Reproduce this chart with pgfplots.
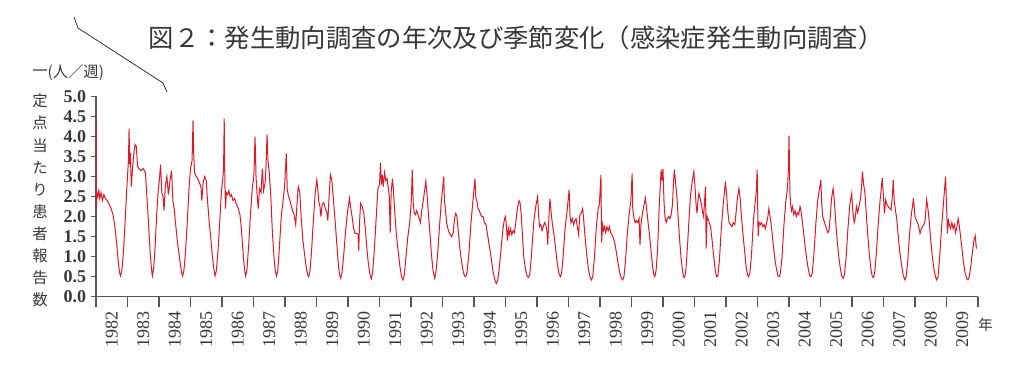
\documentclass[border=0pt]{standalone}
\usepackage{pgfplots}
\pgfplotsset{compat=1.18}
\usepackage{fontspec}
\setmainfont{Liberation Serif}
\newfontfamily\cjk{Noto Sans CJK JP}
\definecolor{linered}{RGB}{222,25,40}
\definecolor{axgray}{RGB}{85,85,85}
\definecolor{txtgray}{RGB}{55,55,55}
\begin{document}
\begin{tikzpicture}
\path[use as bounding box] (0,0) rectangle (768pt,284.25pt);
\begin{axis}[
  at={(72pt,61.7pt)}, anchor=south west,
  scale only axis, width=661.5pt, height=150.2pt,
  xmin=1982, xmax=2010, ymin=0, ymax=5,
  axis x line*=bottom, axis y line*=left,
  axis line style={axgray, line width=0.8pt, -},
  tick align=outside,
  major tick length=3.8pt,
  minor tick length=8pt,
  ytick={0,0.5,1,1.5,2,2.5,3,3.5,4,4.5,5},
  y tick style={axgray, line width=0.8pt},
  /pgf/number format/assume math mode=true,
  yticklabel style={/pgf/number format/.cd, fixed, fixed zerofill, precision=1, /tikz/.cd,
    font=\fontsize{13.5}{14}\selectfont\bfseries, text=txtgray},
  xtick={1982.5,1983.5,1984.5,1985.5,1986.5,1987.5,1988.5,1989.5,1990.5,1991.5,1992.5,1993.5,1994.5,1995.5,1996.5,1997.5,1998.5,1999.5,2000.5,2001.5,2002.5,2003.5,2004.5,2005.5,2006.5,2007.5,2008.5,2009.5},
  xticklabels={1982,1983,1984,1985,1986,1987,1988,1989,1990,1991,1992,1993,1994,1995,1996,1997,1998,1999,2000,2001,2002,2003,2004,2005,2006,2007,2008,2009},
  minor xtick={1982,1983,...,2010},
  major x tick style={draw=none},
  minor x tick style={axgray, line width=0.8pt},
  xticklabel shift=4pt,
  xticklabel style={rotate=90, anchor=east, font=\fontsize{13.5}{14}\selectfont, text=txtgray},
  clip=false,
]
\addplot[color=linered, line width=0.75pt] coordinates {
(1982.00,4.40)(1982.01,2.20)(1982.03,2.60)(1982.06,2.50)(1982.09,2.65)(1982.12,2.45)(1982.16,2.60)(1982.20,2.40)(1982.25,2.55)(1982.30,2.45)(1982.36,2.40)(1982.42,2.30)(1982.48,2.20)(1982.54,2.05)(1982.60,1.75)(1982.66,1.30)(1982.71,0.85)(1982.75,0.60)(1982.78,0.52)(1982.82,0.65)(1982.87,1.10)(1982.92,1.80)(1982.97,2.60)(1983.00,3.00)
(1983.03,3.40)(1983.05,4.20)(1983.07,3.30)(1983.09,3.60)(1983.12,2.75)(1983.15,3.10)(1983.19,3.50)(1983.24,3.80)(1983.28,3.75)(1983.32,3.25)(1983.36,3.20)(1983.42,3.15)(1983.50,3.20)(1983.57,3.10)(1983.62,2.45)(1983.67,1.80)(1983.72,1.10)(1983.76,0.70)(1983.79,0.52)(1983.83,0.70)(1983.88,1.30)(1983.93,2.10)(1983.98,2.70)
(1984.01,2.90)(1984.05,3.30)(1984.09,2.60)(1984.13,2.50)(1984.16,2.15)(1984.20,2.75)(1984.25,3.00)(1984.30,2.55)(1984.35,2.90)(1984.40,3.15)(1984.44,2.40)(1984.48,2.20)(1984.53,1.80)(1984.58,1.40)(1984.63,1.10)(1984.68,0.80)(1984.72,0.60)(1984.75,0.52)(1984.79,0.65)(1984.84,1.10)(1984.90,1.90)(1984.96,2.80)(1985.00,3.20)
(1985.05,3.40)(1985.08,4.40)(1985.10,3.60)(1985.13,3.10)(1985.18,3.00)(1985.23,2.95)(1985.28,2.85)(1985.33,2.75)(1985.36,2.40)(1985.40,2.85)(1985.45,3.00)(1985.50,2.90)(1985.54,2.40)(1985.59,1.90)(1985.64,1.50)(1985.69,1.05)(1985.74,0.70)(1985.78,0.52)(1985.82,0.65)(1985.87,1.10)(1985.93,1.90)(1985.98,2.60)(1986.03,3.00)
(1986.05,3.20)(1986.07,4.45)(1986.09,2.90)(1986.11,2.20)(1986.14,2.60)(1986.18,2.55)(1986.22,2.65)(1986.26,2.50)(1986.30,2.55)(1986.35,2.40)(1986.40,2.45)(1986.46,2.30)(1986.52,2.20)(1986.57,2.05)(1986.61,1.75)(1986.65,1.30)(1986.69,0.90)(1986.72,0.65)(1986.75,0.52)(1986.79,0.65)(1986.84,1.20)(1986.90,2.00)(1986.96,2.70)
(1987.01,3.00)(1987.05,4.00)(1987.08,3.00)(1987.11,2.60)(1987.15,2.20)(1987.19,2.70)(1987.24,2.60)(1987.28,3.20)(1987.32,2.65)(1987.37,2.85)(1987.40,3.30)(1987.43,4.05)(1987.46,3.40)(1987.50,3.10)(1987.55,2.50)(1987.60,1.60)(1987.65,1.00)(1987.69,0.65)(1987.73,0.52)(1987.77,0.65)(1987.82,1.20)(1987.88,2.00)(1987.94,2.40)(1987.99,2.80)
(1988.04,3.58)(1988.07,2.70)(1988.10,2.55)(1988.14,2.45)(1988.19,2.30)(1988.24,2.15)(1988.29,2.05)(1988.34,1.80)(1988.38,2.30)(1988.42,2.75)(1988.47,2.60)(1988.52,1.90)(1988.57,1.40)(1988.63,1.00)(1988.68,0.70)(1988.72,0.55)(1988.75,0.50)(1988.79,0.62)(1988.84,1.10)(1988.90,1.90)(1988.96,2.60)
(1989.01,2.92)(1989.04,2.70)(1989.07,2.40)(1989.11,2.25)(1989.14,2.00)(1989.18,2.30)(1989.23,2.35)(1989.28,2.20)(1989.33,2.10)(1989.36,1.90)(1989.40,2.50)(1989.44,3.05)(1989.48,2.95)(1989.52,2.60)(1989.56,2.20)(1989.61,1.70)(1989.66,1.15)(1989.70,0.75)(1989.74,0.52)(1989.77,0.46)(1989.81,0.60)(1989.86,1.00)(1989.92,1.60)(1989.98,2.10)
(1990.02,2.30)(1990.05,2.46)(1990.09,2.20)(1990.13,2.00)(1990.17,1.75)(1990.21,1.60)(1990.25,1.58)(1990.29,1.58)(1990.32,1.55)(1990.34,1.15)(1990.37,1.90)(1990.40,2.33)(1990.45,2.25)(1990.50,2.10)(1990.55,1.70)(1990.60,1.20)(1990.65,0.80)(1990.70,0.55)(1990.74,0.45)(1990.78,0.60)(1990.83,1.10)(1990.89,1.90)(1990.95,2.70)
(1991.00,2.80)(1991.03,3.35)(1991.06,2.80)(1991.09,3.05)(1991.12,2.75)(1991.16,3.10)(1991.20,2.90)(1991.24,2.95)(1991.28,2.70)(1991.31,2.50)(1991.34,1.60)(1991.37,2.60)(1991.41,2.95)(1991.44,2.70)(1991.48,2.15)(1991.53,1.60)(1991.59,1.15)(1991.65,0.75)(1991.70,0.50)(1991.75,0.42)(1991.79,0.55)(1991.84,1.00)(1991.90,1.50)(1991.96,1.85)
(1992.01,2.40)(1992.04,3.17)(1992.07,2.35)(1992.10,2.10)(1992.14,2.05)(1992.18,2.15)(1992.22,2.05)(1992.26,1.95)(1992.30,1.85)(1992.34,2.15)(1992.39,2.40)(1992.44,2.70)(1992.47,2.88)(1992.51,2.55)(1992.55,2.10)(1992.60,1.60)(1992.65,1.05)(1992.70,0.65)(1992.75,0.46)(1992.79,0.60)(1992.84,1.00)(1992.90,1.70)(1992.96,2.35)
(1993.04,3.00)(1993.06,2.40)(1993.09,2.20)(1993.13,1.85)(1993.17,1.70)(1993.21,1.60)(1993.25,1.55)(1993.29,1.50)(1993.34,1.60)(1993.38,1.95)(1993.42,2.08)(1993.46,2.00)(1993.51,1.55)(1993.56,1.15)(1993.61,0.85)(1993.66,0.62)(1993.70,0.52)(1993.74,0.50)(1993.78,0.62)(1993.84,1.10)(1993.90,1.80)(1993.96,2.35)
(1994.03,2.95)(1994.06,2.45)(1994.09,2.40)(1994.13,2.20)(1994.17,2.15)(1994.21,2.05)(1994.25,2.00)(1994.29,2.00)(1994.33,1.85)(1994.38,1.80)(1994.43,1.55)(1994.48,1.30)(1994.54,1.00)(1994.60,0.65)(1994.66,0.42)(1994.71,0.33)(1994.75,0.40)(1994.80,0.70)(1994.86,1.20)(1994.92,1.70)(1994.97,1.95)
(1995.00,2.00)(1995.03,1.75)(1995.06,1.40)(1995.09,1.70)(1995.12,1.55)(1995.16,1.70)(1995.20,1.55)(1995.24,1.65)(1995.28,1.60)(1995.32,1.80)(1995.36,2.10)(1995.40,2.30)(1995.43,2.40)(1995.46,2.35)(1995.50,2.05)(1995.54,1.50)(1995.58,1.00)(1995.63,0.70)(1995.68,0.52)(1995.73,0.48)(1995.77,0.55)(1995.82,1.00)(1995.90,1.90)(1995.97,2.30)
(1996.02,2.50)(1996.05,2.05)(1996.08,1.75)(1996.12,1.80)(1996.16,1.65)(1996.20,1.75)(1996.24,1.85)(1996.28,1.80)(1996.32,1.60)(1996.34,1.30)(1996.38,2.00)(1996.41,2.45)(1996.45,2.10)(1996.49,1.80)(1996.54,1.55)(1996.59,1.20)(1996.64,0.85)(1996.69,0.60)(1996.74,0.50)(1996.78,0.58)(1996.83,1.00)(1996.89,1.70)(1996.95,2.10)
(1997.02,2.67)(1997.05,2.00)(1997.08,1.85)(1997.12,1.95)(1997.16,1.80)(1997.20,1.90)(1997.24,1.95)(1997.28,1.75)(1997.32,1.55)(1997.36,2.05)(1997.41,2.10)(1997.45,2.20)(1997.49,1.85)(1997.53,1.45)(1997.58,1.05)(1997.63,0.70)(1997.68,0.50)(1997.73,0.42)(1997.77,0.50)(1997.82,0.95)(1997.88,1.70)(1997.94,2.20)
(1997.98,2.30)(1998.03,3.04)(1998.05,1.35)(1998.08,1.80)(1998.11,1.65)(1998.14,1.75)(1998.18,1.60)(1998.22,1.75)(1998.26,1.65)(1998.30,1.75)(1998.34,1.60)(1998.38,1.55)(1998.43,1.45)(1998.48,1.30)(1998.53,1.05)(1998.58,0.80)(1998.63,0.58)(1998.68,0.45)(1998.72,0.42)(1998.76,0.50)(1998.81,0.90)(1998.87,1.60)(1998.93,2.10)(1998.98,2.40)
(1999.02,3.08)(1999.04,2.20)(1999.08,1.95)(1999.12,1.85)(1999.16,1.90)(1999.20,1.85)(1999.24,1.95)(1999.27,1.30)(1999.30,1.80)(1999.35,2.10)(1999.40,2.30)(1999.44,2.46)(1999.48,2.20)(1999.52,1.90)(1999.57,1.55)(1999.62,1.15)(1999.67,0.75)(1999.71,0.55)(1999.74,0.50)(1999.78,0.65)(1999.83,1.20)(1999.88,2.25)(1999.94,3.17)(1999.97,2.90)
(2000.00,3.19)(2000.03,2.40)(2000.06,2.00)(2000.10,1.85)(2000.14,1.95)(2000.18,2.00)(2000.22,1.95)(2000.26,2.05)(2000.30,2.30)(2000.33,2.80)(2000.36,3.17)(2000.40,2.85)(2000.44,2.50)(2000.48,2.00)(2000.52,1.50)(2000.57,1.00)(2000.61,0.70)(2000.65,0.50)(2000.69,0.48)(2000.73,0.70)(2000.78,1.30)(2000.83,2.00)(2000.87,2.50)(2000.93,2.90)(2000.98,3.13)
(2001.02,2.70)(2001.05,2.30)(2001.08,2.08)(2001.11,2.40)(2001.14,2.58)(2001.18,2.45)(2001.22,2.30)(2001.26,2.10)(2001.29,2.00)(2001.32,2.40)(2001.35,2.75)(2001.37,1.20)(2001.40,2.00)(2001.45,1.90)(2001.51,1.75)(2001.56,1.40)(2001.61,1.00)(2001.66,0.65)(2001.70,0.50)(2001.74,0.52)(2001.79,0.90)(2001.85,1.70)(2001.91,2.30)
(2001.95,2.60)(2001.98,2.88)(2002.02,2.55)(2002.06,2.10)(2002.10,1.85)(2002.14,1.80)(2002.19,1.75)(2002.23,1.85)(2002.28,1.80)(2002.32,2.10)(2002.36,2.45)(2002.41,2.70)(2002.45,2.45)(2002.49,2.00)(2002.54,1.55)(2002.59,1.15)(2002.63,0.80)(2002.68,0.55)(2002.72,0.50)(2002.76,0.60)(2002.81,1.05)(2002.87,1.90)(2002.93,2.40)
(2002.96,2.60)(2002.99,3.17)(2003.02,1.50)(2003.05,1.85)(2003.09,1.80)(2003.13,1.85)(2003.17,1.75)(2003.21,1.80)(2003.25,1.70)(2003.29,1.85)(2003.33,2.00)(2003.36,2.20)(2003.40,2.00)(2003.45,1.70)(2003.50,1.30)(2003.55,0.95)(2003.60,0.70)(2003.65,0.52)(2003.69,0.50)(2003.73,0.60)(2003.78,1.00)(2003.84,1.80)(2003.90,2.40)(2003.95,2.70)
(2003.98,3.17)(2004.00,4.02)(2004.03,2.60)(2004.05,2.30)(2004.08,2.15)(2004.11,2.25)(2004.15,2.05)(2004.19,2.15)(2004.23,2.00)(2004.27,2.10)(2004.31,2.05)(2004.35,2.25)(2004.38,2.15)(2004.42,1.90)(2004.47,1.55)(2004.52,1.20)(2004.57,0.90)(2004.62,0.65)(2004.66,0.52)(2004.70,0.50)(2004.74,0.60)(2004.79,1.05)(2004.85,1.80)(2004.91,2.40)
(2004.95,2.60)(2005.01,2.92)(2005.04,2.30)(2005.07,2.00)(2005.11,1.90)(2005.15,1.80)(2005.19,1.70)(2005.23,1.60)(2005.27,1.65)(2005.31,2.00)(2005.35,2.45)(2005.40,2.70)(2005.44,2.40)(2005.48,1.90)(2005.53,1.40)(2005.58,1.00)(2005.63,0.70)(2005.68,0.50)(2005.72,0.46)(2005.76,0.55)(2005.81,0.95)(2005.87,1.70)(2005.93,2.30)
(2005.99,2.58)(2006.03,2.10)(2006.07,1.85)(2006.10,1.95)(2006.14,2.25)(2006.18,2.10)(2006.22,2.25)(2006.26,2.40)(2006.30,2.70)(2006.33,3.13)(2006.37,2.80)(2006.41,2.60)(2006.45,2.10)(2006.50,1.55)(2006.55,1.05)(2006.60,0.70)(2006.64,0.52)(2006.68,0.48)(2006.72,0.60)(2006.77,1.05)(2006.83,1.80)(2006.89,2.40)
(2006.93,2.70)(2006.96,2.96)(2007.00,2.50)(2007.03,2.08)(2007.07,2.42)(2007.11,2.30)(2007.15,2.25)(2007.20,2.20)(2007.24,2.17)(2007.28,2.50)(2007.31,2.92)(2007.34,2.40)(2007.38,2.15)(2007.42,1.95)(2007.47,1.50)(2007.52,1.10)(2007.58,0.75)(2007.63,0.52)(2007.68,0.42)(2007.72,0.50)(2007.77,0.90)(2007.83,1.60)(2007.89,2.10)
(2007.92,2.25)(2007.95,2.46)(2008.00,2.00)(2008.05,1.90)(2008.09,1.83)(2008.13,1.70)(2008.16,1.58)(2008.20,1.70)(2008.24,1.75)(2008.28,1.80)(2008.32,1.90)(2008.37,2.42)(2008.41,2.20)(2008.45,1.90)(2008.50,1.40)(2008.55,1.00)(2008.60,0.70)(2008.65,0.50)(2008.69,0.42)(2008.73,0.50)(2008.78,0.95)(2008.84,1.70)(2008.90,2.30)
(2008.94,2.70)(2008.97,3.00)(2009.00,2.30)(2009.03,1.58)(2009.06,1.90)(2009.09,1.80)(2009.13,1.70)(2009.17,1.85)(2009.21,1.70)(2009.25,1.80)(2009.29,1.60)(2009.33,1.75)(2009.37,1.95)(2009.40,1.80)(2009.44,1.55)(2009.49,1.20)(2009.54,0.85)(2009.59,0.60)(2009.64,0.45)(2009.68,0.42)(2009.72,0.50)(2009.77,0.75)(2009.82,1.10)(2009.87,1.40)(2009.91,1.52)(2009.95,1.20)
};
\end{axis}
% title
\node[text=txtgray, font=\cjk\fontsize{19}{20}\selectfont] at (387pt,255.75pt) {図２：発生動向調査の年次及び季節変化（感染症発生動向調査）};
% y label
\node[text=txtgray, font=\cjk\fontsize{11.5}{12}\selectfont] at (30pt,229.5pt) {一};
\node[text=txtgray, font=\cjk\fontsize{11.5}{12}\selectfont, anchor=west, inner sep=0pt] at (35.5pt,229.5pt) {(人／週)};
\foreach \c [count=\i from 0] in {定,点,当,た,り,患,者,報,告,数}{
  \node[text=txtgray, font=\cjk\fontsize{11.5}{12}\selectfont] at (30pt,{208.5pt-16.575pt*\i}) {\c};
}
% year unit
\node[text=txtgray, font=\cjk\fontsize{11}{12}\selectfont] at (739pt,40.5pt) {年};
% stray pen stroke
\draw[black!80, line width=0.6pt] (55.5pt,271.5pt) -- (58.5pt,263.25pt) -- (122.25pt,222pt) -- (125.25pt,215.25pt);
\end{tikzpicture}
\end{document}
